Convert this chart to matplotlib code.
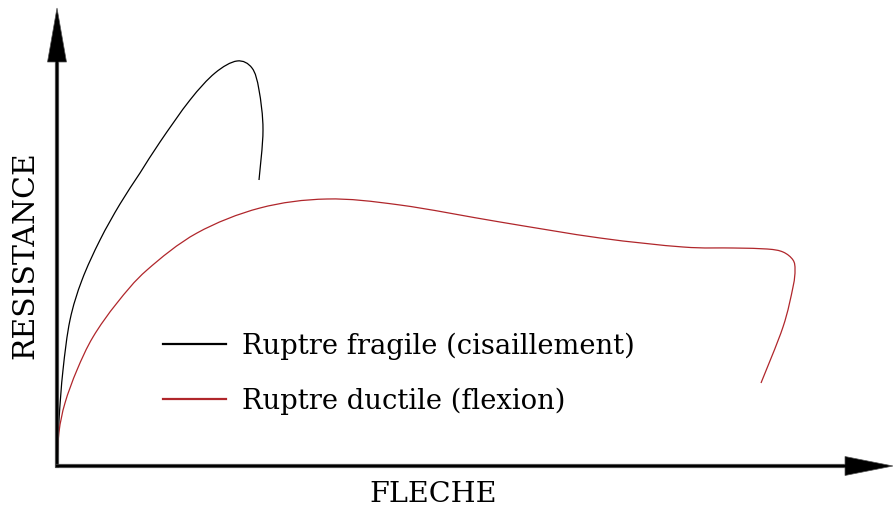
import matplotlib
matplotlib.use("Agg")
import matplotlib.pyplot as plt
import numpy as np
from matplotlib.lines import Line2D
from matplotlib.patches import PathPatch
from matplotlib.path import Path

plt.rcParams["font.family"] = ["DejaVu Serif"]

# schematic curves, units = pixels from the axes origin (fleche, resistance)
FRAGILE_X = [0, 2, 6, 13, 25, 43, 63, 83, 103, 133, 158, 180, 195, 202, 206,
             202]
FRAGILE_Y = [0, 46, 96, 146, 186, 226, 262, 293, 324, 366, 393, 405, 398,
             376, 336, 286]

DUCTILE_X = [0, 2, 8, 20, 36, 60, 90, 140, 203, 270, 343, 443, 543, 626, 676,
             710, 726, 736, 738, 736, 726, 704]
DUCTILE_Y = [0, 34, 63, 96, 129, 163, 196, 233, 258, 267, 261, 244, 228, 219,
             218, 217, 214, 206, 196, 179, 139, 83]

LABELS = ["Ruptre fragile (cisaillement)", "Ruptre ductile (flexion)"]
COLORS = ["black", "#b0262b"]
X_LABEL = "FLECHE"
Y_LABEL = "RESISTANCE"

W, H = 893, 508
OX, OY = 57, 466  # origin in image pixels


def smooth_path(xs, ys):
    # cubic bezier segments passing through every point (catmull-rom style)
    p = np.column_stack([xs, ys]).astype(float)
    p = np.vstack([p[0], p, p[-1]])
    verts = [p[1]]
    codes = [Path.MOVETO]
    for i in range(1, len(p) - 2):
        c1 = p[i] + (p[i + 1] - p[i - 1]) / 6
        c2 = p[i + 1] - (p[i + 2] - p[i]) / 6
        verts += [c1, c2, p[i + 1]]
        codes += [Path.CURVE4] * 3
    return Path(verts, codes)


fig = plt.figure(figsize=(W / 100, H / 100), dpi=100)
ax = fig.add_axes([0, 0, 1, 1])
ax.set_xlim(-OX, W - OX)
ax.set_ylim(-(H - OY), OY)
ax.axis("off")

for xs, ys, c in [(FRAGILE_X, FRAGILE_Y, COLORS[0]),
                  (DUCTILE_X, DUCTILE_Y, COLORS[1])]:
    ax.add_patch(PathPatch(smooth_path(xs, ys), fc="none", ec=c, lw=0.9))

# axes arrows
ax.arrow(0, -1.5, 0, OY - 8 + 1.5, width=3.5, head_width=19, head_length=54,
         length_includes_head=True, fc="black", ec="#555555", lw=0.5)
ax.arrow(-1.5, 0, W - OX + 1.5, 0, width=3.5, head_width=19, head_length=48,
         length_includes_head=True, fc="black", ec="#555555", lw=0.5)

ax.text(433 - OX, OY - 494, X_LABEL, fontsize=20.5, ha="center", va="center")
ax.text(25 - OX, OY - 255, Y_LABEL, fontsize=21.5, ha="center", va="center",
        rotation=90)

handles = [Line2D([], [], color=c, lw=1.6) for c in COLORS]
ax.legend(handles, LABELS, loc="center left",
          bbox_to_anchor=(163 / W, 1 - 373.5 / H),
          frameon=False, fontsize=19.7, handlelength=2.3, handletextpad=0.6,
          labelspacing=1.0, borderpad=0, borderaxespad=0)

fig.savefig("out.png", dpi=100)
